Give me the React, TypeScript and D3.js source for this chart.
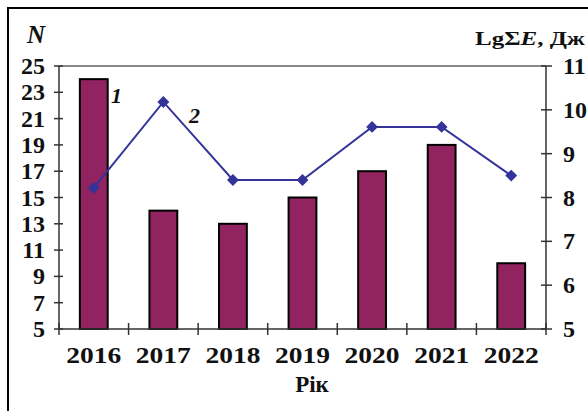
import { useEffect, useRef } from "react";
import * as d3 from "d3";

const years = ["2016", "2017", "2018", "2019", "2020", "2021", "2022"];
const counts = [24, 14, 13, 15, 17, 19, 10];
const energy = [8.22, 10.18, 8.4, 8.4, 9.61, 9.61, 8.5];
const leftTicks = [5, 7, 9, 11, 13, 15, 17, 19, 21, 23, 25];
const rightTicks = [5, 6, 7, 8, 9, 10, 11];

export default function App() {
  const ref = useRef<SVGSVGElement>(null);

  useEffect(() => {
    if (!ref.current) return;
    const svg = d3.select(ref.current);
    svg.selectAll("*").remove();

    const left = 59;
    const right = 546;
    const top = 66;
    const bottom = 329;
    const font = "'Liberation Serif', 'Times New Roman', serif";
    const barColor = "#912360";
    const lineColor = "#33339a";
    const axisColor = "#333";

    // outer frame (runs off the right and bottom edges)
    svg
      .append("rect")
      .attr("x", 8)
      .attr("y", 8)
      .attr("width", 700)
      .attr("height", 500)
      .attr("fill", "white")
      .attr("stroke", "black")
      .attr("stroke-width", 2);

    const x = d3.scaleBand<string>().domain(years).range([left, right]).padding(0);
    const yL = d3.scaleLinear().domain([5, 25]).range([bottom, top]);
    const yR = d3.scaleLinear().domain([5, 11]).range([bottom, top]);

    // top border of plot
    svg
      .append("line")
      .attr("x1", left)
      .attr("x2", right)
      .attr("y1", top)
      .attr("y2", top)
      .attr("stroke", "#8a8a8a")
      .attr("stroke-width", 2);

    // bars
    const bw = x.bandwidth() * 0.4;
    svg
      .selectAll(".bar")
      .data(counts)
      .enter()
      .append("rect")
      .attr("class", "bar")
      .attr("x", (_d, i) => (x(years[i]) || 0) + x.bandwidth() / 2 - bw / 2)
      .attr("y", (d) => yL(d))
      .attr("width", bw)
      .attr("height", (d) => bottom - yL(d))
      .attr("fill", barColor)
      .attr("stroke", "black")
      .attr("stroke-width", 2);

    // axes lines
    const axes = svg.append("g").attr("stroke", axisColor).attr("stroke-width", 1.5);
    axes.append("line").attr("x1", left).attr("x2", left).attr("y1", top).attr("y2", bottom);
    axes.append("line").attr("x1", right).attr("x2", right).attr("y1", top).attr("y2", bottom);
    axes.append("line").attr("x1", left).attr("x2", right).attr("y1", bottom).attr("y2", bottom);

    // ticks
    leftTicks.forEach((t) => {
      axes.append("line").attr("x1", left - 5).attr("x2", left + 4).attr("y1", yL(t)).attr("y2", yL(t));
    });
    rightTicks.forEach((t) => {
      axes.append("line").attr("x1", right - 5).attr("x2", right + 6).attr("y1", yR(t)).attr("y2", yR(t));
    });
    const bounds = years.map((y) => x(y) || 0).concat([right]);
    bounds.forEach((b) => {
      axes.append("line").attr("x1", b).attr("x2", b).attr("y1", bottom - 6).attr("y2", bottom + 6);
    });

    // line series
    const line = d3
      .line<number>()
      .x((_d, i) => (x(years[i]) || 0) + x.bandwidth() / 2)
      .y((d) => yR(d));
    svg
      .append("path")
      .datum(energy)
      .attr("d", line)
      .attr("fill", "none")
      .attr("stroke", lineColor)
      .attr("stroke-width", 2);
    svg
      .selectAll(".mark")
      .data(energy)
      .enter()
      .append("path")
      .attr("class", "mark")
      .attr("d", d3.symbol(d3.symbolDiamond2, 90)())
      .attr("transform", (d, i) => `translate(${(x(years[i]) || 0) + x.bandwidth() / 2},${yR(d)})`)
      .attr("fill", lineColor);

    const txt = svg.append("g").attr("font-family", font).attr("font-weight", "bold").attr("fill", "#111");

    // left tick labels
    txt
      .selectAll(".lt")
      .data(leftTicks)
      .enter()
      .append("text")
      .attr("x", 45)
      .attr("y", (d) => yL(d) + 8)
      .attr("text-anchor", "end")
      .attr("font-size", 24)
      .text((d) => d);

    // right tick labels
    txt
      .selectAll(".rt")
      .data(rightTicks)
      .enter()
      .append("text")
      .attr("x", 563)
      .attr("y", (d) => yR(d) + 8)
      .attr("font-size", 24)
      .text((d) => d);

    // year labels
    txt
      .selectAll(".yr")
      .data(years)
      .enter()
      .append("text")
      .attr("x", (d) => (x(d) || 0) + x.bandwidth() / 2)
      .attr("y", 363)
      .attr("text-anchor", "middle")
      .attr("font-size", 24)
      .attr("textLength", 55)
      .attr("lengthAdjust", "spacingAndGlyphs")
      .text((d) => d);

    // axis titles
    txt
      .append("text")
      .attr("x", 312)
      .attr("y", 392)
      .attr("text-anchor", "middle")
      .attr("font-size", 23)
      .text("Рік");

    txt
      .append("text")
      .attr("x", 27)
      .attr("y", 43)
      .attr("font-size", 25)
      .attr("font-style", "italic")
      .text("N");

    const rt = txt
      .append("text")
      .attr("x", 475)
      .attr("y", 45)
      .attr("font-size", 19)
      .attr("textLength", 110)
      .attr("lengthAdjust", "spacingAndGlyphs");
    rt.append("tspan").text("LgΣ");
    rt.append("tspan").attr("font-style", "italic").text("E");
    rt.append("tspan").text(", Дж");

    // series labels
    txt
      .append("text")
      .attr("x", 111)
      .attr("y", 103)
      .attr("font-size", 22)
      .attr("font-style", "italic")
      .text("1");
    txt
      .append("text")
      .attr("x", 189)
      .attr("y", 123)
      .attr("font-size", 22)
      .attr("font-style", "italic")
      .text("2");
  }, []);

  return (
    <svg
      ref={ref}
      width={588}
      height={411}
      style={{ position: "absolute", left: 0, top: 0 }}
    />
  );
}
